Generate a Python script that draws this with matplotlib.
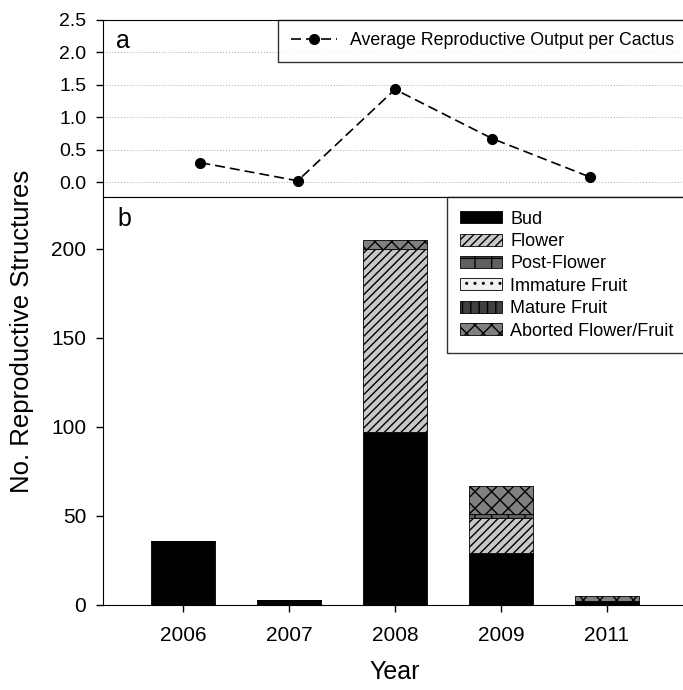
import numpy as np
import matplotlib
matplotlib.use('Agg')
import matplotlib.pyplot as plt

plt.rcParams['font.family'] = ['Liberation Sans', 'DejaVu Sans']
plt.rcParams['hatch.linewidth'] = 1.0

# data
years = ['2006', '2007', '2008', '2009', '2011']
avg_output = [0.30, 0.02, 1.43, 0.67, 0.08]

bud = [36, 3, 97, 29, 2]
flower = [0, 0, 103, 20, 0]
post_flower = [0, 0, 0, 2, 0]
immature_fruit = [0, 0, 0, 0, 0]
mature_fruit = [0, 0, 0, 0, 0]
aborted = [0, 0, 5, 16, 3]

stages = [
    ('Bud', bud, 'black', None),
    ('Flower', flower, '#c8c8c8', '////'),
    ('Post-Flower', post_flower, '#606060', '+'),
    ('Immature Fruit', immature_fruit, '#f0f0f0', '..'),
    ('Mature Fruit', mature_fruit, '#404040', '||'),
    ('Aborted Flower/Fruit', aborted, '#808080', 'xx'),
]

W, H = 683, 690
fig = plt.figure(figsize=(W / 100, H / 100), dpi=100)

left = 103 / W
width = (687 - 103) / W
ax1 = fig.add_axes([left, 1 - 197 / H, width, (197 - 20) / H])
ax2 = fig.add_axes([left, 1 - 605 / H, width, (605 - 197) / H])

# ---- panel a
x = np.arange(len(years))
ax1.plot(x, avg_output, color='black', ls=(0, (6, 3)), lw=1.2,
         marker='o', ms=7, label='Average Reproductive Output per Cactus')
ax1.set_xlim(-1, 5)
ax1.set_ylim(-0.23, 2.5)
ax1.set_yticks([0.0, 0.5, 1.0, 1.5, 2.0, 2.5])
ax1.set_yticklabels(['0.0', '0.5', '1.0', '1.5', '2.0', '2.5'])
ax1.set_xticks([])
for v in [0.0, 0.5, 1.0, 1.5, 2.0]:
    ax1.axhline(v, color='#a8a8a8', lw=0.7, ls=(0, (1, 2)), zorder=0)
ax1.spines['right'].set_visible(False)
ax1.tick_params(axis='y', direction='out', length=5, width=1, labelsize=14, pad=7)
ax1.text(0.022, 0.95, 'a', transform=ax1.transAxes, fontsize=18, va='top')
leg1 = ax1.legend(loc='upper right', borderaxespad=0, fontsize=12.8,
                  fancybox=False, edgecolor='black', handlelength=2.6,
                  handletextpad=0.75, borderpad=0.7)
leg1.get_frame().set_linewidth(1.0)

# ---- panel b
xb = np.arange(len(years))
bottom = np.zeros(len(years))
for name, vals, col, hatch in stages:
    ax2.bar(xb, vals, width=0.6, bottom=bottom, color=col, hatch=hatch,
            edgecolor='black', linewidth=0.6, label=name)
    bottom = bottom + np.array(vals)

ax2.set_xlim(-0.755, 4.755)
ax2.set_ylim(0, 229)
ax2.set_yticks([0, 50, 100, 150, 200])
ax2.set_xticks(xb)
ax2.set_xticklabels(years)
ax2.spines['right'].set_visible(False)
ax2.tick_params(axis='y', direction='out', length=5, width=1, labelsize=15, pad=7)
ax2.tick_params(axis='x', direction='out', length=5, width=1, labelsize=15, pad=10)
ax2.text(0.025, 0.975, 'b', transform=ax2.transAxes, fontsize=18, va='top')
ax2.set_xlabel('Year', fontsize=18, labelpad=11)
leg2 = ax2.legend(loc='upper right', borderaxespad=0, fontsize=13,
                  fancybox=False, edgecolor='black', handlelength=2.3,
                  handleheight=0.65, handletextpad=0.45, labelspacing=0.3,
                  borderpad=0.75)
leg2.get_frame().set_linewidth(1.0)

fig.text(22 / W, 1 - 331 / H, 'No. Reproductive Structures', rotation=90,
         fontsize=18.5, ha='center', va='center')

fig.savefig('out.png', dpi=100)
